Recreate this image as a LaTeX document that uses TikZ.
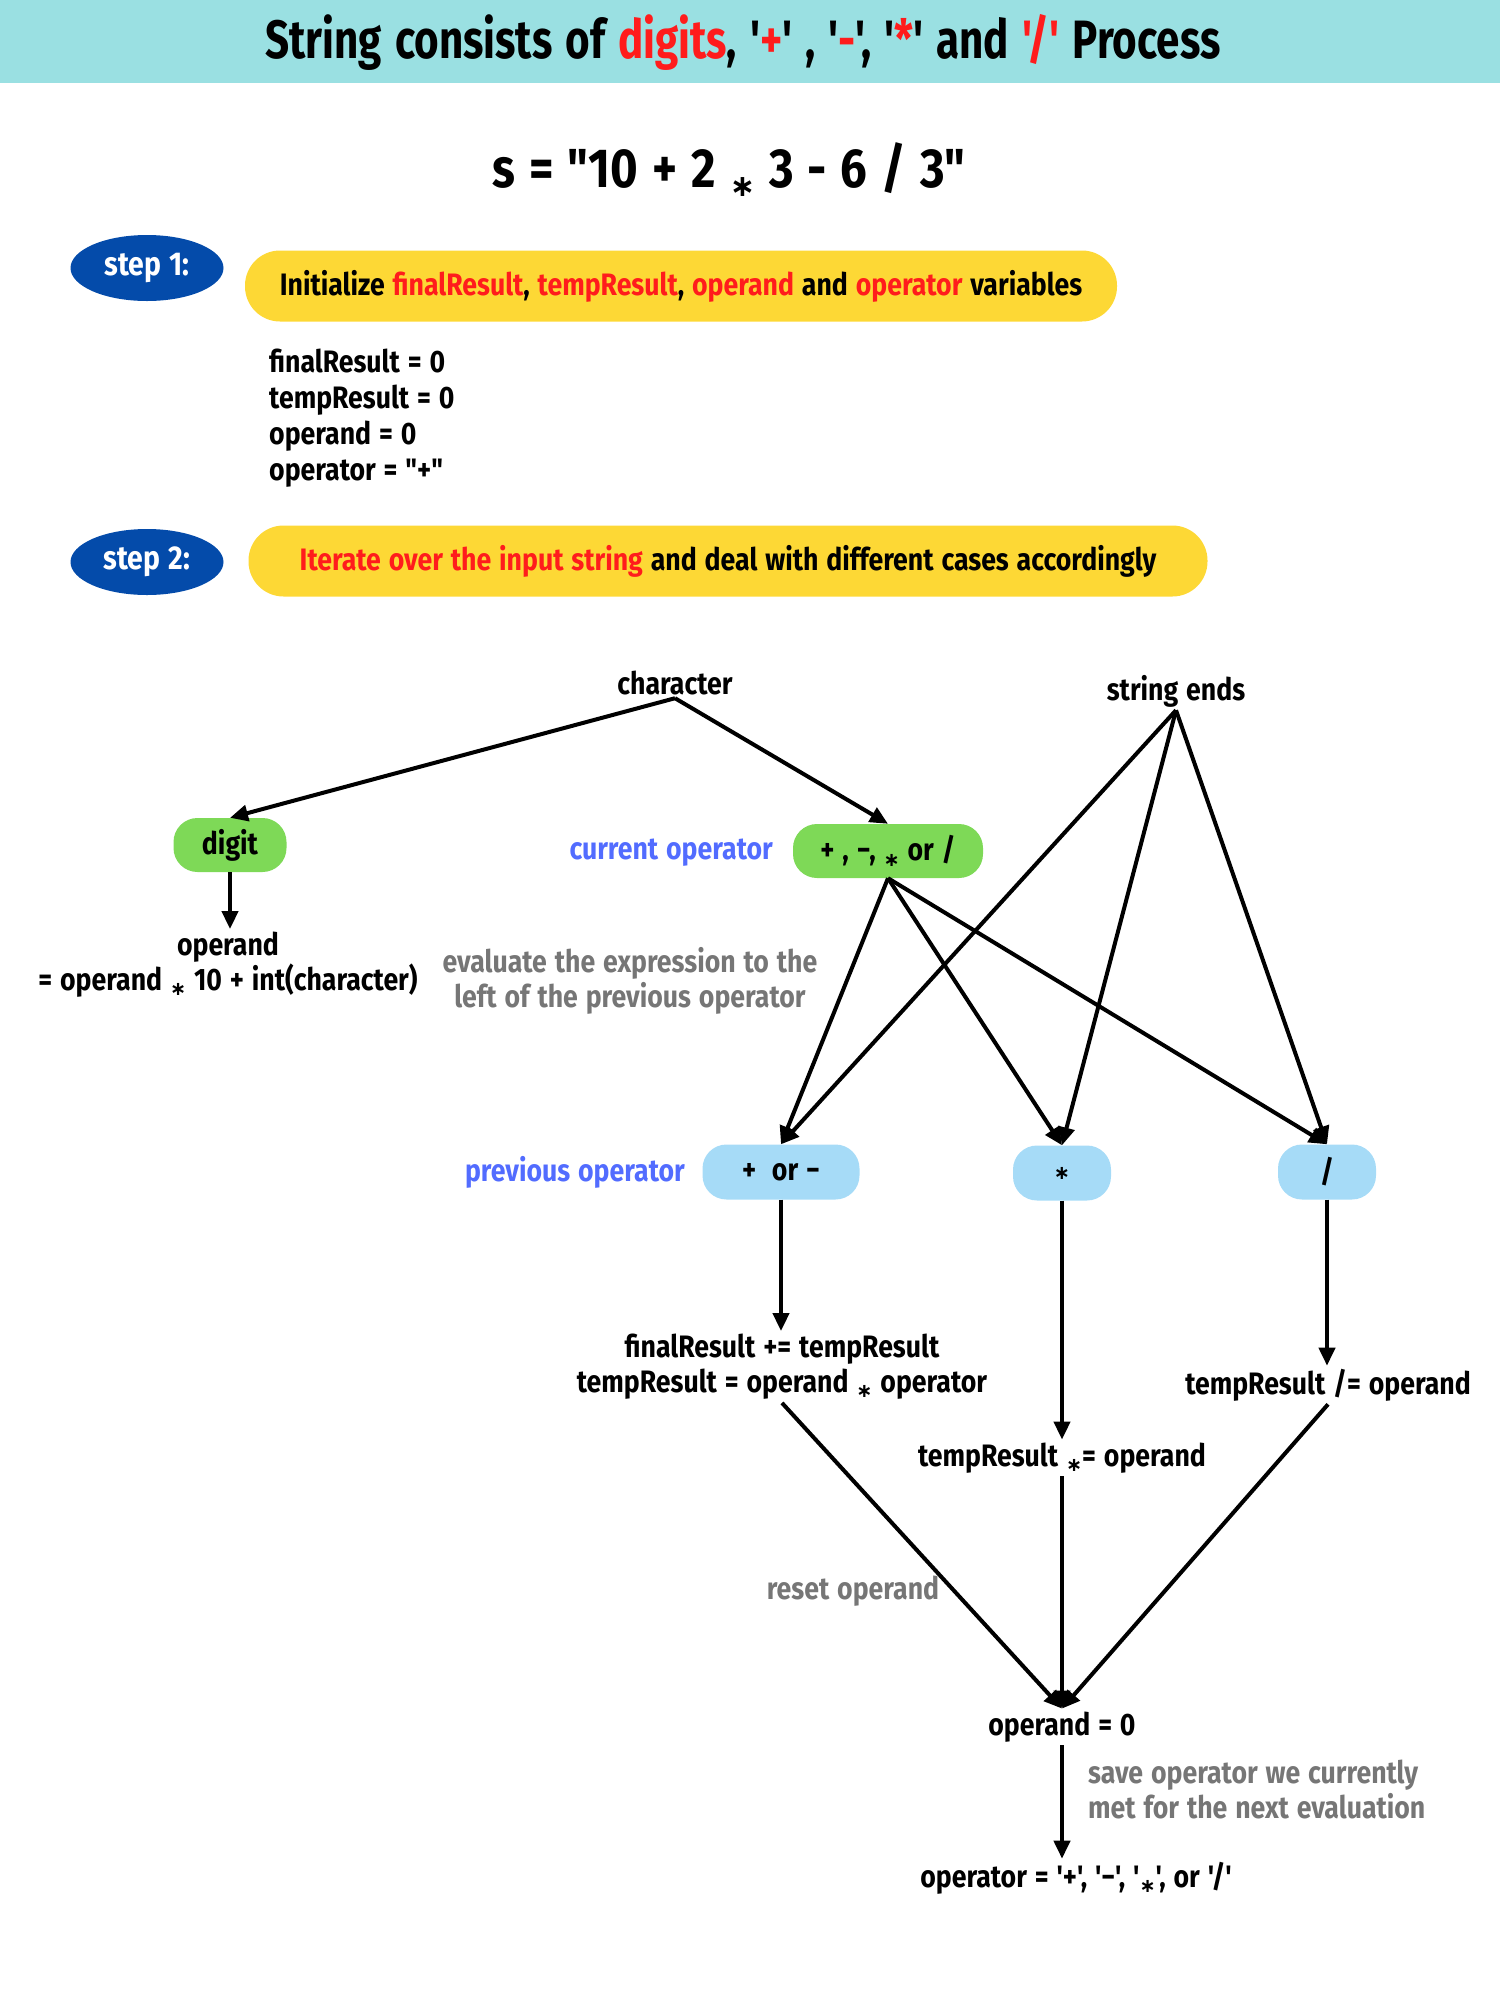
\documentclass[tikz,border=0pt]{standalone}
\usepackage{fontspec}
\setmainfont{Fira Sans}[FakeStretch=0.86, Ligatures=TeXOff, WordSpace=1.25]
\newfontfamily\headfont{Fira Sans}[FakeStretch=0.78, Ligatures=TeXOff, WordSpace=1.3]
\newfontfamily\symfont{DejaVu Sans}
\usetikzlibrary{arrows.meta,shapes.geometric}

\definecolor{hdrcyan}{RGB}{154,224,226}
\definecolor{stepblue}{RGB}{4,75,170}
\definecolor{pillyellow}{RGB}{253,216,53}
\definecolor{hotred}{RGB}{255,28,28}
\definecolor{opgreen}{RGB}{126,217,87}
\definecolor{opblue}{RGB}{166,219,247}
\definecolor{notegrey}{RGB}{118,118,118}
\definecolor{labelblue}{RGB}{82,108,255}

\newcommand\bodysize{\bfseries\fontsize{31}{35}\selectfont}
\newcommand\opmul{{\symfont\raisebox{-0.3ex}{\scalebox{0.62}{∗}}}}
\newcommand\hl[1]{\textcolor{hotred}{#1}}

\begin{document}
\begin{tikzpicture}[x=1pt,y=-1pt,
  txt/.style={font=\bodysize, inner sep=3pt, text=black},
  note/.style={font=\bodysize, inner sep=3pt, text=notegrey},
  sidelabel/.style={font=\bodysize, inner sep=0pt, text=labelblue},
  stepblob/.style={ellipse, fill=stepblue, minimum width=153, minimum height=66,
    inner sep=0pt, text=white, font=\bfseries\fontsize{33}{38}\selectfont},
  yellowpill/.style={rectangle, rounded corners=35, fill=pillyellow, minimum height=71,
    inner sep=0pt, font=\bodysize},
  greenpill/.style={rectangle, rounded corners=24, fill=opgreen, minimum height=54,
    inner sep=0pt, font=\bodysize},
  bluepill/.style={rectangle, rounded corners=24, fill=opblue, minimum height=55,
    inner sep=0pt, font=\bodysize},
  arr/.style={line width=4pt, -{Triangle[length=18pt,width=16pt]}}
]
\useasboundingbox (0,0) rectangle (1500,2000);

% header band and title
\fill[hdrcyan] (0,0) rectangle (1500,83);
\node[font=\headfont\bfseries\fontsize{54}{60}\selectfont, inner sep=0pt] (title) at (743,42)
  {String consists of \hl{digits}, '\hl{+}' , '\hl{-}', '\hl{*}' and \hl{'/'} Process};

% input expression
\node[font=\bfseries\fontsize{55}{62}\selectfont, inner sep=0pt] (expr) at (729,170)
  {s = "10 + 2 {\symfont\raisebox{-0.3ex}{\scalebox{0.55}{∗}}} 3 - 6 / 3"};

% step 1
\node[stepblob] (s1) at (147,268) {step 1:};
\node[yellowpill, minimum width=872] (p1) at (681,286)
  {Initialize \hl{finalResult}, \hl{tempResult}, \hl{operand} and \hl{operator} variables};
\node[txt, align=left, anchor=north west, inner sep=0pt, font=\bfseries\fontsize{31}{36}\selectfont]
  (vars) at (269,349)
  {finalResult = 0\\tempResult = 0\\operand = 0\\operator = "+"};

% step 2
\node[stepblob] (s2) at (147,562) {step 2:};
\node[yellowpill, minimum width=959] (p2) at (728,561)
  {\hl{Iterate over the input string} and deal with different cases accordingly};

% flow: sources
\node[txt] (character) at (675,683) {character};
\node[txt] (strend) at (1176,691) {string ends};

% first level
\node[greenpill, minimum width=113] (digit) at (230,845) {digit};
\node[greenpill, minimum width=190] (curop) at (888,851) {+ , −, \opmul\ or /};
\node[sidelabel, anchor=east] (curlbl) at (773,853) {current operator};

\node[txt, align=center] (opd) at (228,965) {operand\\= operand \opmul\ 10 + int(character)};
\node[note, align=center] (evalnote) at (630,981)
  {evaluate the expression to the\\left of the previous operator};

% second level
\node[bluepill, minimum width=157] (pm) at (781,1172) {+~ or −};
\node[bluepill, minimum width=98] (star) at (1062,1173) {\opmul};
\node[bluepill, minimum width=98] (slash) at (1327,1172) {/};
\node[sidelabel, anchor=east] (prevlbl) at (685,1172) {previous operator};

% updates
\node[txt, align=center] (pmtxt) at (782,1367) {finalResult += tempResult\\tempResult = operand \opmul\ operator};
\node[txt] (startxt) at (1062,1458) {tempResult \opmul= operand};
\node[txt] (slashtxt) at (1328,1385) {tempResult /= operand};

\node[note] (resetlbl) at (853,1591) {reset operand};
\node[txt] (op0) at (1062,1727) {operand = 0};
\node[note, align=left, anchor=west] (savenote) at (1085,1789)
  {save operator we currently\\met for the next evaluation};
\node[txt] (opfinal) at (1076,1878) {operator = '+', '−', '\opmul', or '/'};

% connectors
\draw[arr] (character.south) -- (digit.north);
\draw[arr] (character.south) -- (curop.north);
\draw[arr] (digit.south) -- (opd.north -| digit.south);

\draw[arr] (curop.south) -- (pm.north);
\draw[arr] (curop.south) -- (star.north);
\draw[arr] (curop.south) -- (slash.north);
\draw[arr] (strend.south) -- (pm.north);
\draw[arr] (strend.south) -- (star.north);
\draw[arr] (strend.south) -- (slash.north);

\draw[arr] (pm.south) -- (pmtxt.north -| pm.south);
\draw[arr] (star.south) -- (startxt.north);
\draw[arr] (slash.south) -- (slashtxt.north -| slash.south);

\draw[arr] (pmtxt.south) -- (op0.north);
\draw[arr] (startxt.south) -- (op0.north);
\draw[arr] (slashtxt.south) -- (op0.north);

\draw[arr] (op0.south) -- (op0.south |- opfinal.north);
\end{tikzpicture}
\end{document}
